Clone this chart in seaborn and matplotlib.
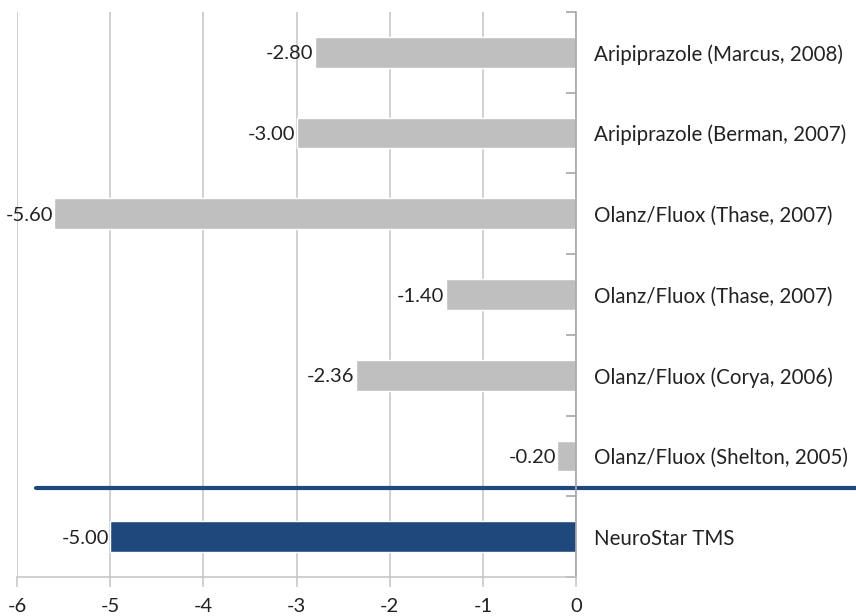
import matplotlib
matplotlib.use("Agg")
import matplotlib.pyplot as plt
import matplotlib.transforms as mtransforms
import seaborn as sns
import pandas as pd

studies = [
    "Aripiprazole (Marcus, 2008)",
    "Aripiprazole (Berman, 2007)",
    "Olanz/Fluox (Thase, 2007)",
    "Olanz/Fluox (Thase, 2007) ",
    "Olanz/Fluox (Corya, 2006)",
    "Olanz/Fluox (Shelton, 2005)",
    "NeuroStar TMS",
]
effects = [-2.80, -3.00, -5.60, -1.40, -2.36, -0.20, -5.00]
bar_colors = ["#BFBFBF"] * 6 + ["#1F497D"]
x_ticks = [-6, -5, -4, -3, -2, -1, 0]

sns.set_theme(style="white")
plt.rcParams["font.family"] = ["Lato", "DejaVu Sans"]

df = pd.DataFrame({"study": studies, "effect": effects})

fig = plt.figure(figsize=(8.56, 6.16), dpi=100)
ax = fig.add_axes([17 / 856, 1 - 577 / 616, 559 / 856, 565 / 616])

sns.barplot(data=df, x="effect", y="study", hue="study", palette=bar_colors,
            orient="h", width=0.38, legend=False, ax=ax, saturation=1)

ax.set_xlim(-6, 0)
ax.set_ylim(6.5, -0.5)
ax.set_xticks(x_ticks)
ax.set_xticklabels([str(v) for v in x_ticks], fontsize=14.5, color="#222222")
ax.xaxis.grid(True, color="#C4C4C4", linewidth=1.1)
ax.set_axisbelow(True)
ax.set_xlabel("")
ax.set_ylabel("")

# y-axis sits at zero on the right; ticks mark category boundaries
ax.set_yticks([i - 0.5 for i in range(len(studies) + 1)])
ax.set_yticklabels([])
ax.yaxis.tick_right()
ax.tick_params(axis="y", direction="in", length=7, color="#A6A6A6", width=1.2, right=True, left=False)
ax.tick_params(axis="x", direction="out", length=7, color="#C4C4C4", width=1.1, bottom=True, pad=8)

for side in ["top", "left"]:
    ax.spines[side].set_visible(False)
ax.spines["right"].set_color("#A6A6A6")
ax.spines["right"].set_linewidth(1.2)
ax.spines["bottom"].set_color("#C4C4C4")
ax.spines["bottom"].set_linewidth(1.1)

# category names to the right of the zero axis
for i, name in enumerate(studies):
    ax.annotate(name.strip(), xy=(0, i), xytext=(13, 0), textcoords="offset points",
                ha="left", va="center_baseline", fontsize=14.8, color="#222222",
                annotation_clip=False)

# value labels at the bar ends
for i, v in enumerate(effects):
    ax.annotate(f"{v:.2f}", xy=(v, i), xytext=(-1, 0), textcoords="offset points",
                ha="right", va="center_baseline", fontsize=14.5, color="#222222",
                annotation_clip=False)

# separator between comparison studies and NeuroStar TMS
trans = mtransforms.blended_transform_factory(ax.transAxes, ax.transData)
ax.plot([0.034, 1.6], [5.4, 5.4], transform=trans, color="#1F497D", linewidth=3, clip_on=False)

fig.savefig("out.png", dpi=100)
